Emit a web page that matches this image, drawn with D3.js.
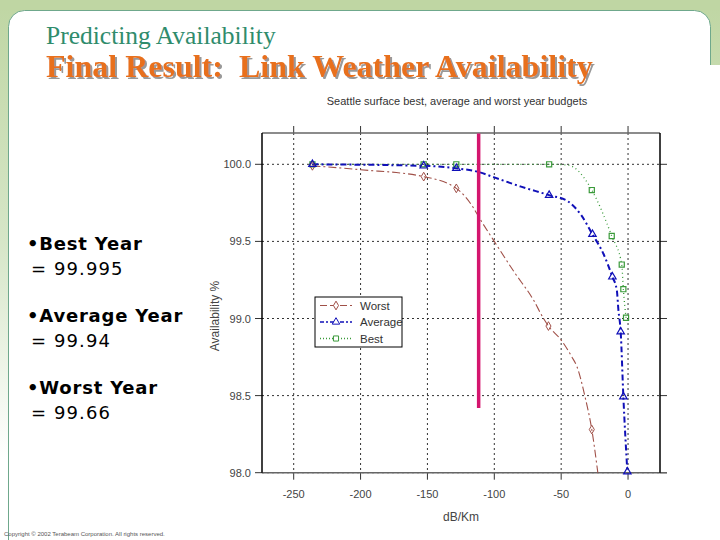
<!DOCTYPE html>
<html>
<head>
<meta charset="utf-8">
<script src="https://cdn.jsdelivr.net/npm/d3@7"></script>
<style>
  body { margin: 0; padding: 0; background: #fff; }
  svg { display: block; }
</style>
</head>
<body>
<div id="main-container"></div>
<script>
// data
const xTicks = [-250, -200, -150, -100, -50, 0]
const yTicks = [98.0, 98.5, 99.0, 99.5, 100.0]

const worstX = [-236, -200, -152.8, -128.4, -115.4, -111.7, -100, -85, -70.7, -63.2, -59.5, -50, -42.1, -38.3, -32.1, -27.1, -22.6]
const worstY = [99.99, 99.965, 99.92, 99.844, 99.715, 99.66, 99.5, 99.3, 99.12, 99.0, 98.951, 98.86, 98.752, 98.69, 98.49, 98.28, 98.0]
const worstMarkX = [-236, -152.8, -128.4, -59.5, -27.1]
const worstMarkY = [99.99, 99.92, 99.844, 98.951, 98.28]

const avgX = [-236, -152.8, -128.4, -111.7, -100, -80, -59, -45, -35, -26.6, -18.4, -11.7, -8.4, -7.2, -5.5, -3.5, -0.5]
const avgY = [100.0, 99.99, 99.974, 99.95, 99.915, 99.855, 99.80, 99.76, 99.67, 99.546, 99.42, 99.27, 99.185, 99.055, 98.914, 98.493, 98.006]
const avgMarkX = [-236, -152.8, -128.4, -59, -26.6, -11.7, -5.5, -3.5, -0.5]
const avgMarkY = [100.0, 99.99, 99.974, 99.80, 99.546, 99.27, 98.914, 98.493, 98.006]

const bestX = [-236, -152.8, -128.4, -59, -45, -39.5, -27.1, -12.2, -4.7, -3.5, -1.5]
const bestY = [100.0, 100.0, 100.0, 100.0, 99.995, 99.974, 99.833, 99.535, 99.35, 99.19, 99.005]
const bestMarkX = [-236, -152.8, -128.4, -59, -27.1, -12.2, -4.7, -3.5, -1.5]
const bestMarkY = [100.0, 100.0, 100.0, 100.0, 99.833, 99.535, 99.35, 99.19, 99.005]

const cutoffX = -111.7
const cutoffY = [98.42, 100.2]

const seriesNames = ['Worst', 'Average', 'Best']
const bullets = [['•Best Year', '= 99.995'], ['•Average Year', '= 99.94'], ['•Worst Year', '= 99.66']]

const W = 720
const H = 540

const svg = d3.select('#main-container').append('svg').attr('width', W).attr('height', H)

// slide background
const defs = svg.append('defs')
const grad = defs.append('linearGradient').attr('id', 'bgGrad').attr('x1', 0).attr('y1', 0).attr('x2', 0).attr('y2', 1)
grad.append('stop').attr('offset', '0%').attr('stop-color', '#bfd6a3')
grad.append('stop').attr('offset', '45%').attr('stop-color', '#d6e6c8')
grad.append('stop').attr('offset', '85%').attr('stop-color', '#ffffff')
const shadow = defs.append('filter').attr('id', 'shadow').attr('x', '-5%').attr('y', '-20%').attr('width', '110%').attr('height', '150%')
shadow.append('feDropShadow').attr('dx', 2).attr('dy', 2).attr('stdDeviation', 0.4)
  .attr('flood-color', '#999').attr('flood-opacity', 1)

svg.append('rect').attr('width', W).attr('height', H).attr('fill', 'url(#bgGrad)')
svg.append('rect').attr('x', 0).attr('y', 0).attr('width', W).attr('height', 10).attr('fill', '#bfd6a3')
svg.append('rect').attr('x', 8.5).attr('y', 10.5).attr('width', 702).attr('height', 600).attr('rx', 16)
  .attr('fill', '#fff').attr('stroke', '#6fa88c').attr('stroke-width', 1)
svg.append('rect').attr('x', 708).attr('y', 65).attr('width', 12).attr('height', 480).attr('fill', '#fff')

// headings
svg.append('text').attr('x', 46).attr('y', 44)
  .style('font-family', '"Liberation Serif", "Times New Roman", serif').style('font-size', '25.5px')
  .attr('fill', '#2f8c6c').text('Predicting Availability')
svg.append('text').attr('x', 46).attr('y', 77)
  .style('font-family', '"Liberation Serif", "Times New Roman", serif')
  .style('font-size', '32px').style('font-weight', 'bold').style('white-space', 'pre')
  .attr('fill', '#e8701e').attr('filter', 'url(#shadow)')
  .text('Final Result:  Link Weather Availability')

// bullets
bullets.forEach((b, i) => {
  svg.append('text').attr('x', 27).attr('y', 250 + i * 72)
    .style('font-family', '"DejaVu Sans", Verdana, sans-serif').style('font-size', '18px').style('font-weight', 'bold')
    .style('letter-spacing', '0.8px').attr('fill', '#000').text(b[0])
  svg.append('text').attr('x', 31).attr('y', 275 + i * 72)
    .style('font-family', '"DejaVu Sans", Verdana, sans-serif').style('font-size', '18px')
    .style('letter-spacing', '1.1px').attr('fill', '#000').text(b[1])
})

svg.append('text').attr('x', 4).attr('y', 536)
  .style('font-family', 'Arial, "Liberation Sans", sans-serif').style('font-size', '6px')
  .attr('fill', '#555').text('Copyright © 2002 Terabeam Corporation. All rights reserved.')

// chart
const x = d3.scaleLinear().domain([-273.7, 23.9]).range([262, 660])
const y = d3.scaleLinear().domain([98.0, 100.203]).range([472.7, 133])
const pLeft = 262, pRight = 660, pTop = 133, pBottom = 472.7
const font = 'Arial, "Liberation Sans", sans-serif'

const g = svg.append('g')

// grid
g.selectAll('.vgrid').data(xTicks).join('line')
  .attr('x1', d => x(d)).attr('x2', d => x(d)).attr('y1', pTop).attr('y2', pBottom)
  .attr('stroke', '#333').attr('stroke-width', 1).attr('stroke-dasharray', '2,3')
g.selectAll('.hgrid').data(yTicks).join('line')
  .attr('x1', pLeft).attr('x2', pRight).attr('y1', d => y(d)).attr('y2', d => y(d))
  .attr('stroke', '#333').attr('stroke-width', 1).attr('stroke-dasharray', '2,3')

// outer ticks
const tk = 7
g.selectAll('.tt').data(xTicks).join('line').attr('x1', d => x(d)).attr('x2', d => x(d)).attr('y1', pTop - tk).attr('y2', pTop).attr('stroke', '#333')
g.selectAll('.tb').data(xTicks).join('line').attr('x1', d => x(d)).attr('x2', d => x(d)).attr('y1', pBottom).attr('y2', pBottom + tk).attr('stroke', '#333')
g.selectAll('.tl').data(yTicks).join('line').attr('x1', pLeft - tk).attr('x2', pLeft).attr('y1', d => y(d)).attr('y2', d => y(d)).attr('stroke', '#333')
g.selectAll('.tr').data(yTicks).join('line').attr('x1', pRight).attr('x2', pRight + tk).attr('y1', d => y(d)).attr('y2', d => y(d)).attr('stroke', '#333')

// frame
g.append('line').attr('x1', pLeft).attr('x2', pRight).attr('y1', pTop).attr('y2', pTop).attr('stroke', '#666').attr('stroke-width', 1.5)
g.append('line').attr('x1', pLeft).attr('x2', pRight + tk).attr('y1', pBottom).attr('y2', pBottom).attr('stroke', '#666').attr('stroke-width', 1.5)
g.append('line').attr('x1', pLeft).attr('x2', pLeft).attr('y1', pTop).attr('y2', pBottom).attr('stroke', '#000').attr('stroke-width', 1.5)
g.append('line').attr('x1', pRight).attr('x2', pRight).attr('y1', pTop).attr('y2', pBottom).attr('stroke', '#000').attr('stroke-width', 1.5)

// tick labels
g.selectAll('.yl').data(yTicks).join('text')
  .attr('x', 251).attr('y', d => y(d) + 4).attr('text-anchor', 'end')
  .style('font-family', font).style('font-size', '11px').attr('fill', '#444')
  .text(d => d3.format('.1f')(d))
g.selectAll('.xl').data(xTicks).join('text')
  .attr('x', d => x(d)).attr('y', 498).attr('text-anchor', 'middle')
  .style('font-family', font).style('font-size', '11px').attr('fill', '#444')
  .text(d => d === 0 ? '0' : '-' + Math.abs(d))

// axis titles
g.append('text').attr('transform', 'translate(219,316)rotate(-90)').attr('text-anchor', 'middle')
  .style('font-family', font).style('font-size', '12px').attr('fill', '#444').text('Availability %')
g.append('text').attr('x', 461).attr('y', 521).attr('text-anchor', 'middle')
  .style('font-family', font).style('font-size', '12px').attr('fill', '#444').text('dB/Km')
g.append('text').attr('x', 457).attr('y', 105).attr('text-anchor', 'middle')
  .style('font-family', font).style('font-size', '11px').attr('fill', '#333')
  .text('Seattle surface best, average and worst year budgets')

// series
const line = d3.line().x(d => x(d[0])).y(d => y(d[1])).curve(d3.curveMonotoneX)
const zip = (a, b) => a.map((v, i) => [v, b[i]])

g.append('path').attr('d', line(zip(bestX, bestY))).attr('fill', 'none')
  .attr('stroke', '#3a9a3a').attr('stroke-width', 1.3).attr('stroke-dasharray', '1,3')
g.append('path').attr('d', line(zip(worstX, worstY))).attr('fill', 'none')
  .attr('stroke', '#a05048').attr('stroke-width', 1.1).attr('stroke-dasharray', '8,3,2,3')
g.append('path').attr('d', line(zip(avgX, avgY))).attr('fill', 'none')
  .attr('stroke', '#1010b8').attr('stroke-width', 2).attr('stroke-dasharray', '6,3,2,3')

const diamond = d3.symbol().type(d3.symbolDiamond).size(22)
const tri = d3.symbol().type(d3.symbolTriangle).size(24)
const square = d3.symbol().type(d3.symbolSquare).size(26)

g.selectAll('.mb').data(zip(bestMarkX, bestMarkY)).join('path')
  .attr('d', square).attr('transform', d => `translate(${x(d[0])},${y(d[1])})`)
  .attr('fill', 'none').attr('stroke', '#3a9a3a').attr('stroke-width', 1.2)
g.selectAll('.mw').data(zip(worstMarkX, worstMarkY)).join('path')
  .attr('d', diamond).attr('transform', d => `translate(${x(d[0])},${y(d[1])})`)
  .attr('fill', 'none').attr('stroke', '#a05048').attr('stroke-width', 1)
g.selectAll('.ma').data(zip(avgMarkX, avgMarkY)).join('path')
  .attr('d', tri).attr('transform', d => `translate(${x(d[0])},${y(d[1])})`)
  .attr('fill', 'none').attr('stroke', '#1010b8').attr('stroke-width', 1.2)

// cutoff marker
g.append('line').attr('x1', x(cutoffX)).attr('x2', x(cutoffX)).attr('y1', y(cutoffY[1])).attr('y2', y(cutoffY[0]))
  .attr('stroke', '#d4156e').attr('stroke-width', 3.5)

// legend
const lg = g.append('g').attr('transform', 'translate(315,297)')
lg.append('rect').attr('width', 87).attr('height', 50).attr('fill', '#fff').attr('stroke', '#000').attr('stroke-width', 1)
const legStyles = [
  { c: '#a05048', dash: '7,3', w: 1.2, sym: diamond },
  { c: '#1010b8', dash: '4,2,2,2', w: 1.6, sym: tri },
  { c: '#3a9a3a', dash: '1,2', w: 1.3, sym: square }
]
seriesNames.forEach((n, i) => {
  const ly = 8.5 + i * 16.5
  lg.append('line').attr('x1', 5).attr('x2', 37).attr('y1', ly).attr('y2', ly)
    .attr('stroke', legStyles[i].c).attr('stroke-width', legStyles[i].w).attr('stroke-dasharray', legStyles[i].dash)
  lg.append('path').attr('d', legStyles[i].sym).attr('transform', `translate(21,${ly})`)
    .attr('fill', '#fff').attr('stroke', legStyles[i].c).attr('stroke-width', 1)
  lg.append('text').attr('x', 45).attr('y', ly + 4)
    .style('font-family', font).style('font-size', '11.5px').attr('fill', '#333').text(n)
})
</script>
</body>
</html>
